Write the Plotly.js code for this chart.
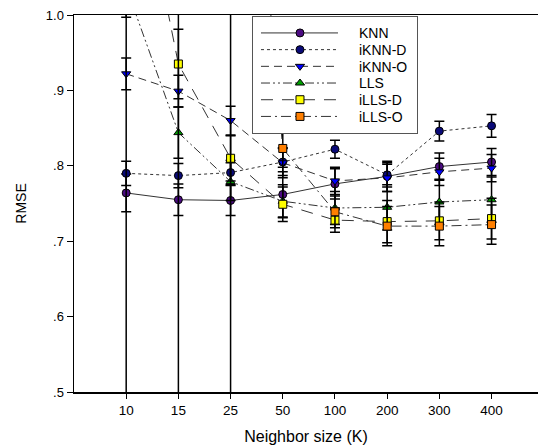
<!DOCTYPE html>
<html>
<head>
<meta charset="utf-8">
<script src="https://cdn.plot.ly/plotly-3.0.1.min.js"></script>
<style>html,body{margin:0;padding:0;background:#fff;}#chart{width:538px;height:448px;}</style>
</head>
<body>
<div id="chart"></div>
<script>
// Categories (neighbor size K)
const neighborSizes = ["10", "15", "25", "50", "100", "200", "300", "400"];

// RMSE values per method (values above 1.0 lie outside the drawn range)
const knn     = [0.764, 0.755, 0.754, 0.762, 0.776, 0.786, 0.799, 0.805];
const knnErr  = [0.025, 0.021, 0.020, 0.030, 0.020, 0.020, 0.018, 0.018];

const iknnD    = [0.790, 0.787, 0.791, 0.805, 0.822, 0.788, 0.846, 0.853];
const iknnDErr = [0.016, 0.016, 0.016, 0.018, 0.012, 0.016, 0.013, 0.015];

const iknnO    = [0.922, 0.899, 0.860, 0.804, 0.780, 0.784, 0.792, 0.797];
const iknnOErr = [0.021, 0.021, 0.019, 0.020, 0.018, 0.018, 0.018, 0.018];

const lls    = [1.037, 0.844, 0.779, 0.753, 0.744, 0.745, 0.752, 0.755];
const llsErr = [0.040, 0.034, 0.025, 0.022, 0.022, 0.030, 0.030, 0.030];

const illsD    = [1.280, 0.935, 0.810, 0.749, 0.728, 0.726, 0.727, 0.730];
const illsDErr = [0.050, 0.046, 0.030, 0.023, 0.016, 0.028, 0.025, 0.027];

const illsO    = [1.900, 1.700, 1.600, 0.823, 0.739, 0.720, 0.720, 0.722];
const illsOErr = [1.500, 1.400, 1.300, 0.025, 0.021, 0.026, 0.026, 0.026];

const yTickVals = [0.5, 0.6, 0.7, 0.8, 0.9, 1.0];
const yTickText = [".5", ".6", ".7", ".8", ".9", "1.0"];

function series(name, y, err, symbol, color, dash) {
  return {
    type: "scatter", mode: "lines+markers", name: name,
    x: neighborSizes, y: y,
    line: {color: "#333333", width: 1, dash: dash},
    marker: {symbol: symbol, size: 8, color: color, line: {color: "#000000", width: 1}},
    error_y: {type: "data", array: err, visible: true, color: "#000000", thickness: 1.5, width: 5}
  };
}

const data = [
  series("KNN", knn, knnErr, "circle", "#4B0A82", "solid"),
  series("iKNN-D", iknnD, iknnDErr, "circle", "#0A0A78", "dot"),
  series("iKNN-O", iknnO, iknnOErr, "triangle-down", "#0000FF", "8px,5px"),
  series("LLS", lls, llsErr, "triangle-up", "#00A000", "9px,3px,2px,3px,2px,3px"),
  series("iLLS-D", illsD, illsDErr, "square", "#FFFF00", "12px,9px"),
  series("iLLS-O", illsO, illsOErr, "square", "#FF7F00", "10px,4px,2px,4px")
];

const layout = {
  width: 538, height: 448,
  margin: {l: 74, r: 0, t: 15, b: 56},
  paper_bgcolor: "#ffffff", plot_bgcolor: "#ffffff",
  font: {family: "Liberation Sans, Arial, sans-serif", size: 12, color: "#000"},
  showlegend: true,
  legend: {
    x: 0.3836, y: 0.997, xanchor: "left", yanchor: "top",
    bgcolor: "#ffffff", bordercolor: "#555555", borderwidth: 1,
    font: {size: 14, family: "Liberation Sans, Arial, sans-serif"},
    itemwidth: 96, tracegroupgap: 0
  },
  xaxis: {
    type: "category", range: [-1, 7.89],
    showline: true, linecolor: "#000", linewidth: 1.5, mirror: true,
    ticks: "outside", ticklen: 5, tickcolor: "#000",
    showgrid: false, zeroline: false,
    tickfont: {size: 13.5},
    title: {text: "Neighbor size (K)", font: {size: 16}, standoff: 14}
  },
  yaxis: {
    range: [0.5, 1.0],
    tickvals: yTickVals, ticktext: yTickText,
    showline: true, linecolor: "#000", linewidth: 1.5, mirror: false,
    ticks: "outside", ticklen: 6, tickcolor: "#000",
    showgrid: false, zeroline: false,
    tickfont: {size: 13},
    title: {text: "RMSE", font: {size: 14}, standoff: 16}
  }
};

function tidyLegend() {
  const legend = document.querySelector(".legend");
  if (!legend || legend.getAttribute("data-tidy")) return;
  legend.setAttribute("data-tidy", "1");
  const firstRow = 16.8, rowGap = 16.7;
  const traces = legend.querySelectorAll("g.traces");
  traces.forEach(function (g, i) {
    g.querySelectorAll("path.js-line").forEach(function (p) { p.setAttribute("d", "M8,0h77"); });
    g.querySelectorAll("path.scatterpts").forEach(function (p) {
      p.setAttribute("transform", "translate(47,0)");
    });
    g.setAttribute("transform", "translate(1," + (firstRow + i * rowGap) + ")");
  });
  const h = 2 * firstRow + (traces.length - 1) * rowGap;
  legend.querySelectorAll("rect.bg").forEach(function (r) {
    r.setAttribute("height", h);
    const w = parseFloat(r.getAttribute("width"));
    if (!isNaN(w)) r.setAttribute("width", w + 4.5);
  });
}

Plotly.newPlot("chart", data, layout, {displayModeBar: false, staticPlot: true}).then(tidyLegend);
</script>
</body>
</html>
